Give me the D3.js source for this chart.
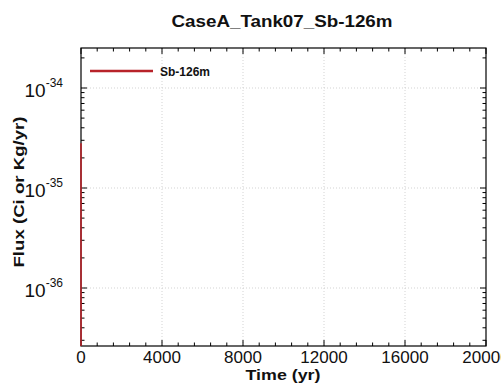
<!DOCTYPE html>
<html>
<head>
<meta charset="utf-8">
<script src="https://cdn.jsdelivr.net/npm/d3@7"></script>
<style>
  body { margin: 0; background: #fff; }
  text { font-family: "Liberation Sans", Arial, sans-serif; }
</style>
</head>
<body>
<div id="chart"></div>
<script>
// Data
const title = 'CaseA_Tank07_Sb-126m';
const seriesName = 'Sb-126m';
const times = [0, 0, 5, 20000];
const flux = [2.8e-35, 2.8e-35, 1e-40, 1e-40];
const xTicks = [0, 4000, 8000, 12000, 16000, 20000];
const yTickExps = [-36, -35, -34];

const width = 501, height = 385;
const margin = {top: 48, right: 15, bottom: 39, left: 81};

const svg = d3.select('#chart')
    .append('svg')
    .attr('width', width)
    .attr('height', height);

const x = d3.scaleLinear()
    .domain([0, 20000])
    .range([margin.left, width - margin.right]);

const y = d3.scaleLog()
    .domain([Math.pow(10, -36.58), Math.pow(10, -33.6)])
    .range([height - margin.bottom, margin.top]);

const x0 = margin.left, x1 = width - margin.right;
const y0 = height - margin.bottom, y1 = margin.top;

// Grid lines (dotted)
const grid = svg.append('g').attr('stroke', '#c8c8c8').attr('stroke-width', 0.8).attr('stroke-dasharray', '1,2');
xTicks.slice(1, -1).forEach(t => {
    grid.append('line').attr('x1', x(t)).attr('x2', x(t)).attr('y1', y0).attr('y2', y1);
});
yTickExps.forEach(e => {
    grid.append('line').attr('x1', x0).attr('x2', x1).attr('y1', y(Math.pow(10, e))).attr('y2', y(Math.pow(10, e)));
});

// Ticks (inward, on all four sides)
const ticks = svg.append('g').attr('stroke', '#000').attr('stroke-width', 1);
const xMinor = d3.range(0, 20001, 800);
xMinor.forEach(t => {
    const major = t % 4000 === 0;
    const len = major ? 6 : 3.5;
    ticks.append('line').attr('x1', x(t)).attr('x2', x(t)).attr('y1', y0).attr('y2', y0 - len);
    ticks.append('line').attr('x1', x(t)).attr('x2', x(t)).attr('y1', y1).attr('y2', y1 + len);
});
const yMinor = [];
for (let e = -37; e <= -34; e++) {
    for (let m = 1; m <= 9; m++) {
        const v = m * Math.pow(10, e);
        if (v >= y.domain()[0] && v <= y.domain()[1]) yMinor.push({v: v, major: m === 1});
    }
}
yMinor.forEach(d => {
    const len = d.major ? 6 : 3.5;
    ticks.append('line').attr('x1', x0).attr('x2', x0 + len).attr('y1', y(d.v)).attr('y2', y(d.v));
    ticks.append('line').attr('x1', x1).attr('x2', x1 - len).attr('y1', y(d.v)).attr('y2', y(d.v));
});

// Frame
svg.append('rect')
    .attr('x', x0).attr('y', y1)
    .attr('width', x1 - x0).attr('height', y0 - y1)
    .attr('fill', 'none').attr('stroke', '#000').attr('stroke-width', 1.2);

// Data line, drawn over the frame; clipped top/bottom only
svg.append('clipPath').attr('id', 'clip')
    .append('rect').attr('x', x0 - 5).attr('y', y1).attr('width', x1 - x0 + 10).attr('height', y0 - y1);

const pts = times.map((t, i) => ({t: t, v: flux[i]}));
const line = d3.line().x(d => x(d.t)).y(d => y(d.v));
svg.append('path')
    .datum(pts)
    .attr('clip-path', 'url(#clip)')
    .attr('fill', 'none')
    .attr('stroke', '#b8232a')
    .attr('stroke-width', 1.6)
    .attr('d', line);

// X tick labels
svg.append('g').selectAll('text')
    .data(xTicks)
    .enter()
    .append('text')
    .attr('x', d => x(d))
    .attr('y', 363)
    .attr('text-anchor', 'middle')
    .attr('font-size', '17px')
    .attr('fill', '#111')
    .text(d => d);

// Y tick labels: 10 with superscript exponent
yTickExps.forEach(e => {
    const t = svg.append('text')
        .attr('x', x0 - 18)
        .attr('y', y(Math.pow(10, e)) + 9)
        .attr('text-anchor', 'end')
        .attr('fill', '#111');
    t.append('tspan').attr('font-size', '19px').text('10');
    t.append('tspan').attr('font-size', '12px').attr('dy', -10).text(e);
});

// Title
svg.append('text')
    .attr('x', 282)
    .attr('y', 27)
    .attr('text-anchor', 'middle')
    .attr('font-size', '16.5px')
    .attr('font-weight', 'bold')
    .attr('fill', '#111')
    .attr('textLength', 221)
    .attr('lengthAdjust', 'spacingAndGlyphs')
    .text(title);

// Axis labels
svg.append('text')
    .attr('x', 283)
    .attr('y', 380)
    .attr('text-anchor', 'middle')
    .attr('font-size', '15.5px')
    .attr('font-weight', 'bold')
    .attr('fill', '#111')
    .attr('textLength', 75)
    .attr('lengthAdjust', 'spacingAndGlyphs')
    .text('Time (yr)');

svg.append('text')
    .attr('transform', 'rotate(-90)')
    .attr('x', -192)
    .attr('y', 24)
    .attr('text-anchor', 'middle')
    .attr('font-size', '15.5px')
    .attr('font-weight', 'bold')
    .attr('fill', '#111')
    .attr('textLength', 151)
    .attr('lengthAdjust', 'spacingAndGlyphs')
    .text('Flux (Ci or Kg/yr)');

// Legend
const legend = svg.append('g').attr('transform', `translate(90,71)`);
legend.append('line')
    .attr('x1', 0).attr('x2', 63).attr('y1', 0).attr('y2', 0)
    .attr('stroke', '#b8232a').attr('stroke-width', 2.5);
legend.append('text')
    .attr('x', 70).attr('y', 4.5)
    .attr('font-size', '12px')
    .attr('font-weight', 'bold')
    .attr('fill', '#111')
    .text(seriesName);
</script>
</body>
</html>
